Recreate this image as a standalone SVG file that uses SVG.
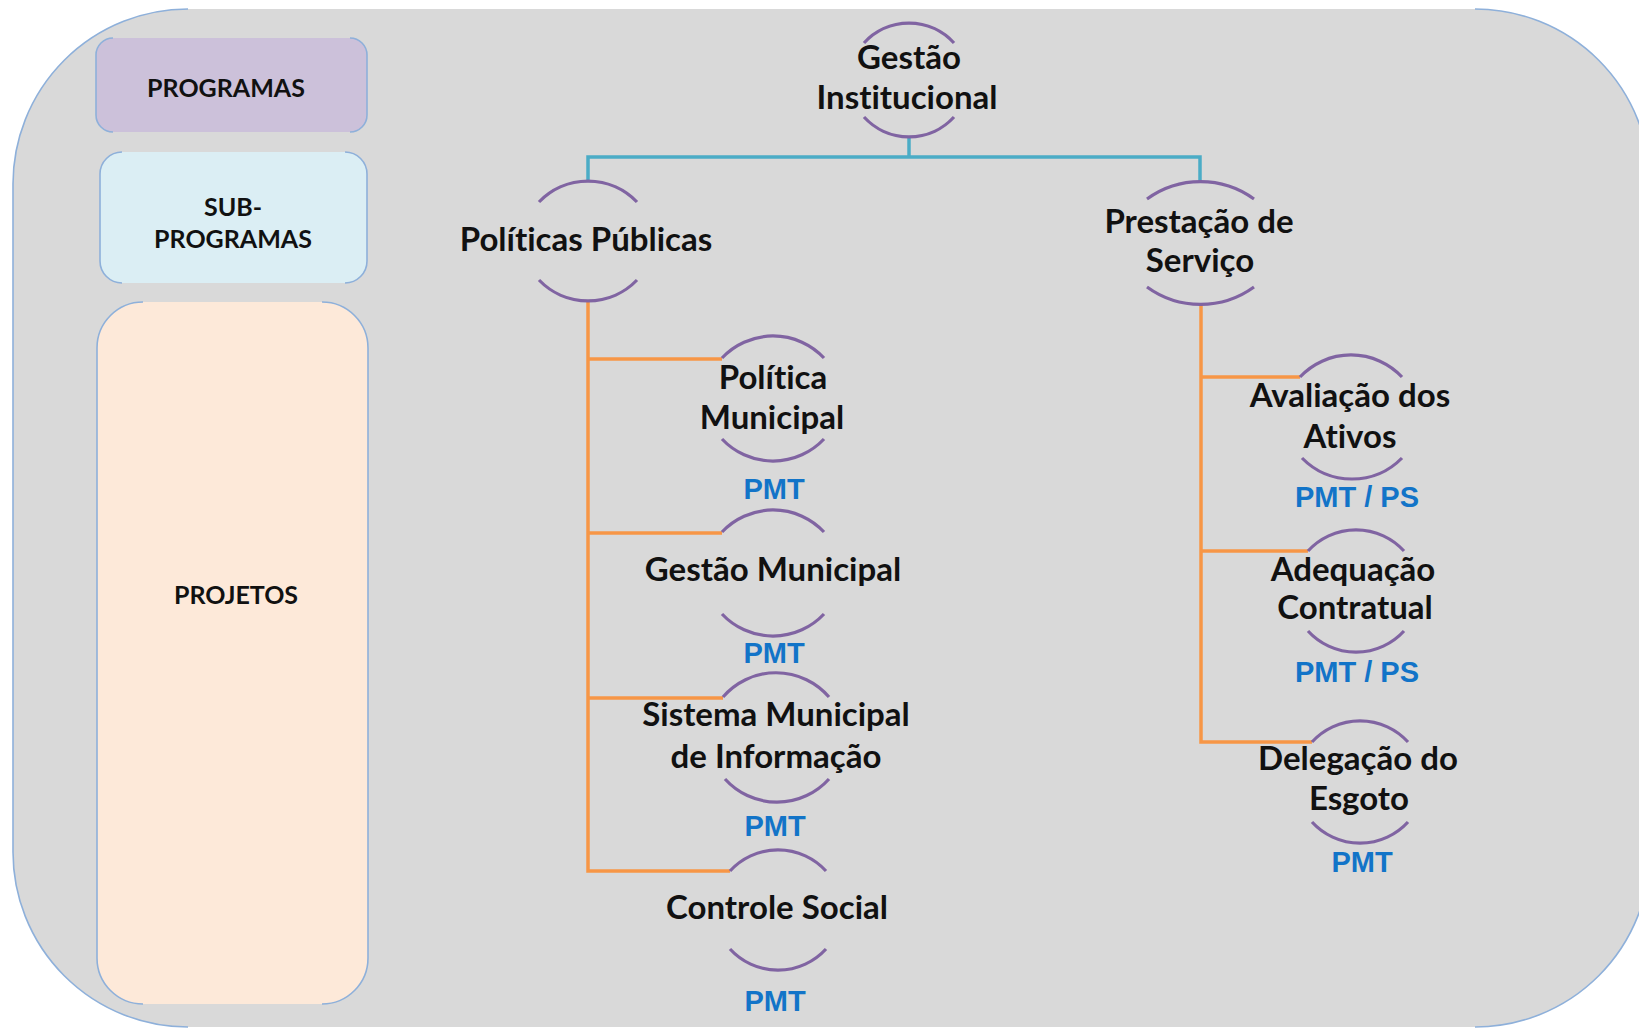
<svg xmlns="http://www.w3.org/2000/svg" width="1639" height="1030" viewBox="0 0 1639 1030">
<style>
.edge{fill:none;stroke:#8EB0DA;stroke-width:1.6}
.lbl{font-family:Lato,"Open Sans","Liberation Sans",sans-serif;font-weight:700;fill:#111;text-anchor:middle;font-variant-ligatures:none;font-feature-settings:"liga" 0}
.side{font-size:25px}
.node{font-size:33px}
.arc{fill:none;stroke:#8064A2;stroke-width:3.2;stroke-linecap:butt}
.org{font-family:"Liberation Sans",Arial,sans-serif;font-weight:700;font-size:29px;fill:#1274C8;text-anchor:middle}
.blue{fill:none;stroke:#4BACC6;stroke-width:3.5}
.orange{fill:none;stroke:#F79646;stroke-width:3.5}
</style>
<rect width="1639" height="1030" fill="#ffffff"/>
<g id="background">
<rect x="13" y="9" width="1637" height="1018" rx="175" ry="175" fill="#D9D9D9"/>
<path class="edge" d="M188 9 A175 175 0 0 0 13 184 V852 A175 175 0 0 0 188 1027 M1475 1027 A175 175 0 0 0 1650 852 V184 A175 175 0 0 0 1475 9"/>
</g>
<g id="legend-programas">
<rect x="96" y="38" width="271" height="94" rx="17" fill="#CCC1DA"/>
<path class="edge" d="M113 38 A17 17 0 0 0 96 55 V115 A17 17 0 0 0 113 132 M350 132 A17 17 0 0 0 367 115 V55 A17 17 0 0 0 350 38"/>
<text class="lbl side" x="226" y="97">PROGRAMAS</text>
</g>
<g id="legend-subprogramas">
<rect x="100" y="152" width="267" height="131" rx="22" fill="#DBEEF4"/>
<path class="edge" d="M122 152 A22 22 0 0 0 100 174 V261 A22 22 0 0 0 122 283 M345 283 A22 22 0 0 0 367 261 V174 A22 22 0 0 0 345 152"/>
<text class="lbl side" x="233" y="216">SUB-</text>
<text class="lbl side" x="233" y="248">PROGRAMAS</text>
</g>
<g id="legend-projetos">
<rect x="97" y="302" width="271" height="702" rx="46" fill="#FDE9D9"/>
<path class="edge" d="M143 302 A46 46 0 0 0 97 348 V958 A46 46 0 0 0 143 1004 M322 1004 A46 46 0 0 0 368 958 V348 A46 46 0 0 0 322 302"/>
<text class="lbl side" x="236" y="604">PROJETOS</text>
</g>
<g id="connectors">
<path class="blue" d="M909 137 V157"/>
<path class="blue" d="M588 181 V157 H1200 V181"/>
<path class="orange" d="M588 301 V871 H730"/>
<path class="orange" d="M588 359 H722"/>
<path class="orange" d="M588 533 H722"/>
<path class="orange" d="M588 698 H723"/>
<path class="orange" d="M1201 305 V742 H1312"/>
<path class="orange" d="M1201 377 H1300"/>
<path class="orange" d="M1201 551 H1308"/>
</g>
<g id="node-gestao-institucional">
<path class="arc" d="M864 43 A61 61 0 0 1 954 43"/>
<path class="arc" d="M864 117 A61 61 0 0 0 954 117"/>
<text class="lbl node" x="909" y="69">Gestão</text>
<text class="lbl node" x="907" y="109">Institucional</text>
</g>
<g id="node-politicas-publicas">
<path class="arc" d="M539 202 A68 68 0 0 1 637 202"/>
<path class="arc" d="M539 280 A68 68 0 0 0 637 280"/>
<text class="lbl node" x="586" y="251">Políticas Públicas</text>
</g>
<g id="node-prestacao-servico">
<path class="arc" d="M1147 199 A91 91 0 0 1 1254 199"/>
<path class="arc" d="M1147 287 A91 91 0 0 0 1254 287"/>
<text class="lbl node" x="1199" y="233">Prestação de</text>
<text class="lbl node" x="1200" y="272">Serviço</text>
</g>
<g id="node-politica-municipal">
<path class="arc" d="M722 358 A70 70 0 0 1 824 358"/>
<path class="arc" d="M722 439 A70 70 0 0 0 824 439"/>
<text class="lbl node" x="773" y="389">Política</text>
<text class="lbl node" x="772" y="429">Municipal</text>
<text class="org" x="774" y="499">PMT</text>
</g>
<g id="node-gestao-municipal">
<path class="arc" d="M722 532 A70 70 0 0 1 824 532"/>
<path class="arc" d="M722 614 A70 70 0 0 0 824 614"/>
<text class="lbl node" x="773" y="581">Gestão Municipal</text>
<text class="org" x="774" y="663">PMT</text>
</g>
<g id="node-sistema-municipal">
<path class="arc" d="M723 697 A70 70 0 0 1 829 697"/>
<path class="arc" d="M725 779 A70 70 0 0 0 829 779"/>
<text class="lbl node" x="776" y="726">Sistema Municipal</text>
<text class="lbl node" x="776" y="768">de Informação</text>
<text class="org" x="775" y="836">PMT</text>
</g>
<g id="node-controle-social">
<path class="arc" d="M730 871 A65 65 0 0 1 826 871"/>
<path class="arc" d="M730 949 A65 65 0 0 0 826 949"/>
<text class="lbl node" x="777" y="919">Controle Social</text>
<text class="org" x="775" y="1011">PMT</text>
</g>
<g id="node-avaliacao-ativos">
<path class="arc" d="M1300 377 A70 70 0 0 1 1402 377"/>
<path class="arc" d="M1302 458 A70 70 0 0 0 1402 458"/>
<text class="lbl node" x="1350" y="407">Avaliação dos</text>
<text class="lbl node" x="1350" y="448">Ativos</text>
<text class="org" x="1357" y="507">PMT / PS</text>
</g>
<g id="node-adequacao-contratual">
<path class="arc" d="M1308 551 A65 65 0 0 1 1404 551"/>
<path class="arc" d="M1308 631 A65 65 0 0 0 1404 631"/>
<text class="lbl node" x="1353" y="581">Adequação</text>
<text class="lbl node" x="1355" y="619">Contratual</text>
<text class="org" x="1357" y="682">PMT / PS</text>
</g>
<g id="node-delegacao-esgoto">
<path class="arc" d="M1312 742 A65 65 0 0 1 1408 742"/>
<path class="arc" d="M1312 822 A65 65 0 0 0 1408 822"/>
<text class="lbl node" x="1358" y="770">Delegação do</text>
<text class="lbl node" x="1359" y="810">Esgoto</text>
<text class="org" x="1362" y="872">PMT</text>
</g>
</svg>
